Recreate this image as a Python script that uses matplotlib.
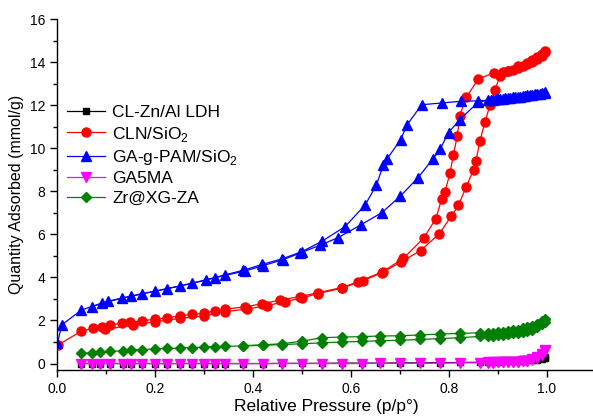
import matplotlib
matplotlib.use("Agg")
import matplotlib.pyplot as plt
from matplotlib.ticker import MultipleLocator

plt.rcParams['font.family'] = ['Liberation Sans', 'DejaVu Sans']
plt.rcParams['mathtext.fontset'] = 'custom'
plt.rcParams['mathtext.rm'] = 'Liberation Sans'

labels = ["CL-Zn/Al LDH", "CLN/SiO$_2$", "GA-g-PAM/SiO$_2$", "GA5MA", "Zr@XG-ZA"]

p_low = [0.05, 0.071, 0.088, 0.108, 0.135, 0.152, 0.173, 0.2, 0.224, 0.251, 0.275, 0.3,
         0.322, 0.343, 0.38, 0.421, 0.459, 0.5, 0.54, 0.581, 0.622, 0.659, 0.7, 0.741,
         0.782, 0.822, 0.863]
p_high = [0.88, 0.89, 0.90, 0.91, 0.92, 0.93, 0.94, 0.95, 0.96, 0.97, 0.98, 0.99, 0.995]

# CL-Zn/Al LDH
ldh_ads_y = [0.0, 0.0, 0.0, 0.0, 0.0, 0.0, 0.0, 0.0, 0.0, 0.0, 0.0, 0.0, 0.0, 0.0, 0.0,
             0.0, 0.01, 0.01, 0.01, 0.02, 0.02, 0.02, 0.03, 0.03, 0.04, 0.05, 0.06]
ldh_high_ads = [0.07, 0.08, 0.09, 0.1, 0.11, 0.12, 0.13, 0.14, 0.15, 0.16, 0.18, 0.21, 0.26]
ldh_high_des = [0.12, 0.13, 0.14, 0.15, 0.16, 0.17, 0.18, 0.19, 0.2, 0.21, 0.23, 0.26, 0.3]

# GA5MA
ga5_ads_y = [0.0, 0.0, 0.0, 0.0, 0.0, 0.0, 0.0, 0.0, 0.0, 0.0, 0.0, 0.0, 0.0, 0.0, 0.0,
             0.0, 0.0, 0.0, 0.0, 0.0, 0.0, 0.01, 0.01, 0.01, 0.02, 0.03, 0.04]
ga5_high_ads = [0.04, 0.04, 0.05, 0.05, 0.06, 0.07, 0.08, 0.1, 0.13, 0.18, 0.27, 0.42, 0.6]
ga5_high_des = [0.05, 0.05, 0.06, 0.06, 0.07, 0.08, 0.09, 0.11, 0.14, 0.2, 0.3, 0.46, 0.65]

# Zr@XG-ZA
zr_ads_y = [0.47, 0.5, 0.53, 0.56, 0.6, 0.62, 0.65, 0.68, 0.7, 0.72, 0.74, 0.76, 0.78,
            0.8, 0.82, 0.85, 0.88, 0.92, 0.96, 1.0, 1.03, 1.06, 1.08, 1.12, 1.16, 1.2, 1.26]
zr_high_ads = [1.28, 1.3, 1.32, 1.34, 1.37, 1.4, 1.43, 1.47, 1.52, 1.58, 1.68, 1.82, 1.95]
zr_des_x = [0.863, 0.822, 0.782, 0.741, 0.7, 0.659, 0.622, 0.581, 0.54, 0.5, 0.459, 0.421, 0.38]
zr_des_y = [1.43, 1.4, 1.37, 1.33, 1.29, 1.28, 1.25, 1.23, 1.2, 1.04, 0.92, 0.87, 0.83]
zr_high_des = [1.43, 1.44, 1.46, 1.48, 1.51, 1.54, 1.58, 1.63, 1.69, 1.76, 1.85, 1.98, 2.08]

# CLN/SiO2
cln_ads_x = [0.002, 0.05, 0.074, 0.098, 0.156, 0.201, 0.251, 0.3, 0.343, 0.387, 0.428,
             0.465, 0.5, 0.533, 0.581, 0.625, 0.663, 0.703, 0.742, 0.78, 0.805, 0.819,
             0.835, 0.85, 0.855, 0.863, 0.873, 0.884, 0.894, 0.904, 0.92, 0.94, 0.96,
             0.97, 0.98, 0.99, 0.996]
cln_ads_y = [0.86, 1.51, 1.64, 1.59, 1.79, 1.94, 2.1, 2.21, 2.41, 2.53, 2.69, 2.87, 3.05,
             3.25, 3.5, 3.85, 4.22, 4.73, 5.25, 6.02, 6.86, 7.34, 8.2, 9.0, 9.42, 10.32,
             11.2, 12.02, 12.72, 13.34, 13.6, 13.8, 13.98, 14.1, 14.22, 14.38, 14.5]
cln_des_x = [0.996, 0.99, 0.98, 0.97, 0.96, 0.95, 0.94, 0.93, 0.92, 0.91, 0.892, 0.86,
             0.835, 0.822, 0.817, 0.809, 0.802, 0.792, 0.785, 0.773, 0.748, 0.707, 0.665,
             0.615, 0.581, 0.533, 0.496, 0.455, 0.418, 0.384, 0.343, 0.322, 0.3, 0.275,
             0.251, 0.224, 0.2, 0.173, 0.149, 0.132, 0.108, 0.091]
cln_des_y = [14.45, 14.3, 14.15, 14.02, 13.9, 13.8, 13.72, 13.64, 13.58, 13.54, 13.5, 13.22,
             12.36, 11.51, 10.58, 9.7, 8.85, 7.99, 7.64, 6.72, 5.82, 4.89, 4.27, 3.8,
             3.53, 3.29, 3.11, 2.95, 2.77, 2.64, 2.52, 2.44, 2.33, 2.29, 2.21, 2.13, 2.06,
             1.98, 1.92, 1.87, 1.79, 1.71]

# GA-g-PAM/SiO2
pam_ads_x = [0.001, 0.01, 0.05, 0.091, 0.132, 0.173, 0.224, 0.275, 0.322, 0.384, 0.421,
             0.462, 0.496, 0.537, 0.574, 0.62, 0.663, 0.7, 0.737, 0.767, 0.782, 0.799,
             0.822, 0.86, 0.88, 0.89, 0.90, 0.91, 0.92, 0.93, 0.94, 0.95, 0.96, 0.97,
             0.98, 0.99, 0.995]
pam_ads_y = [0.95, 1.8, 2.49, 2.8, 3.03, 3.23, 3.47, 3.73, 3.99, 4.3, 4.55, 4.83, 5.13,
             5.5, 5.85, 6.44, 7.01, 7.76, 8.64, 9.5, 9.96, 10.73, 11.33, 12.15, 12.22,
             12.25, 12.28, 12.3, 12.33, 12.36, 12.39, 12.42, 12.45, 12.48, 12.51, 12.55,
             12.58]
pam_des_x = [0.995, 0.985, 0.975, 0.965, 0.955, 0.945, 0.935, 0.925, 0.915, 0.905, 0.895,
             0.885, 0.86, 0.824, 0.785, 0.744, 0.715, 0.701, 0.674, 0.666, 0.652, 0.629,
             0.588, 0.54, 0.5, 0.459, 0.418, 0.38, 0.343, 0.305, 0.251, 0.2, 0.152, 0.105,
             0.071]
pam_des_y = [12.6, 12.54, 12.5, 12.46, 12.43, 12.4, 12.37, 12.34, 12.31, 12.29, 12.27,
             12.24, 12.2, 12.18, 12.1, 12.02, 11.1, 10.4, 9.51, 9.23, 8.3, 7.37, 6.36, 5.67,
             5.2, 4.86, 4.6, 4.33, 4.12, 3.88, 3.6, 3.37, 3.14, 2.9, 2.64]

fig = plt.figure(figsize=(5.93, 4.18), dpi=100)
ax = fig.add_axes([0.0961, 0.1148, 0.909, 0.8397])

lw = 0.9
# black
ax.plot(p_low + p_high, ldh_ads_y + ldh_high_ads, color='black', marker='s', ms=5, lw=lw,
        label=labels[0])
ax.plot(p_high[::-1], ldh_high_des[::-1], color='black', marker='s', ms=5, lw=lw)
# red
ax.plot(cln_ads_x, cln_ads_y, color='red', marker='o', ms=6.5, lw=lw, label=labels[1])
ax.plot(cln_des_x, cln_des_y, color='red', marker='o', ms=6.5, lw=lw)
# blue
ax.plot(pam_ads_x, pam_ads_y, color='blue', marker='^', ms=7, lw=lw, label=labels[2])
ax.plot(pam_des_x, pam_des_y, color='blue', marker='^', ms=7, lw=lw)
# magenta
ax.plot(p_low + p_high, ga5_ads_y + ga5_high_ads, color='magenta', marker='v', ms=7,
        lw=lw, label=labels[3])
ax.plot(p_high[::-1], ga5_high_des[::-1], color='magenta', marker='v', ms=7, lw=lw)
# green
ax.plot(p_low + p_high, zr_ads_y + zr_high_ads, color='green', marker='D', ms=5.5, lw=lw,
        label=labels[4])
ax.plot(p_high[::-1] + zr_des_x, zr_high_des[::-1] + zr_des_y, color='green', marker='D',
        ms=5.5, lw=lw)

ax.set_xlim(0, 1.1)
ax.set_ylim(-0.3, 16)
ax.xaxis.set_major_locator(MultipleLocator(0.2))
ax.xaxis.set_minor_locator(MultipleLocator(0.1))
ax.yaxis.set_major_locator(MultipleLocator(2))
ax.yaxis.set_minor_locator(MultipleLocator(1))
ax.set_xticks([0.0, 0.2, 0.4, 0.6, 0.8, 1.0])
ax.set_xticklabels(["0.0", "0.2", "0.4", "0.6", "0.8", "1.0"])
ax.tick_params(which='major', direction='out', length=5, width=1, labelsize=10)
ax.tick_params(which='minor', direction='out', length=3, width=1)
for s in ['top', 'right']:
    ax.spines[s].set_visible(False)
for s in ['left', 'bottom']:
    ax.spines[s].set_linewidth(1)

ax.set_xlabel("Relative Pressure (p/p°)", fontsize=12.5, labelpad=2)
ax.set_ylabel("Quantity Adsorbed (mmol/g)", fontsize=11.5, labelpad=4)

ax.legend(loc='upper left', bbox_to_anchor=(0.0186, 0.755), frameon=False, fontsize=12.5,
          borderpad=0, borderaxespad=0, handlelength=2.2, handletextpad=0.4,
          labelspacing=0.25)

fig.savefig("out.png", dpi=100)
